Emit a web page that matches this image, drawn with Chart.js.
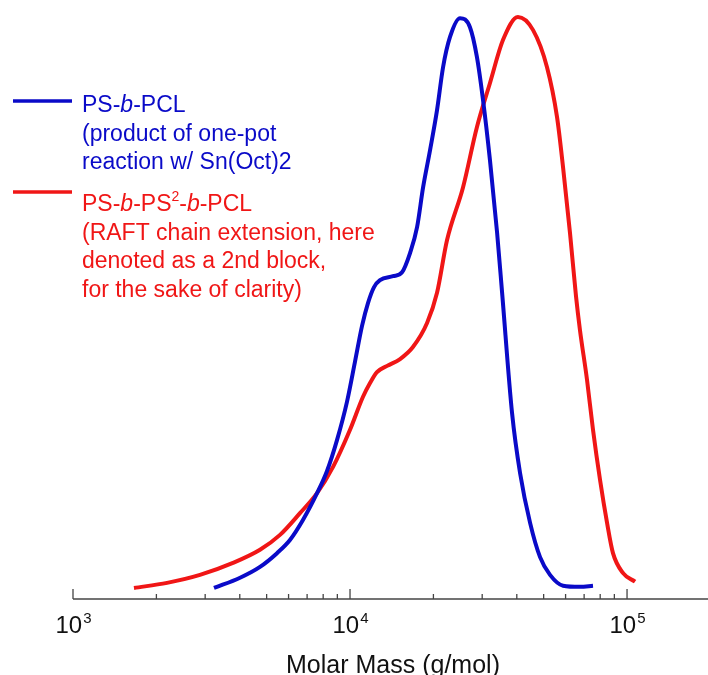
<!DOCTYPE html>
<html>
<head>
<meta charset="utf-8">
<script src="https://cdn.jsdelivr.net/npm/chart.js@4.4.1/dist/chart.umd.min.js"></script>
<style>
  body { margin: 0; background: #fff; }
  #wrap { width: 708px; height: 675px; position: relative; }
</style>
</head>
<body>
<div id="wrap"><canvas id="gpc"></canvas></div>
<script>
// GPC traces (molar mass in g/mol, normalised signal)
var blueMass = [3228,4009,4732,5451,6070,6761,7603,8260,8974,9750,10420,11050,11610,12210,12830,14290,15410,16480,17460,18360,19450,20610,21670,22960,24950,27100,28710,30200,31990,33960,35400,38460,41110,44670,48530,52720,58750,67610,75360];
var blueSignal = [0,0.018,0.037,0.061,0.084,0.119,0.166,0.205,0.259,0.326,0.396,0.459,0.499,0.527,0.539,0.546,0.553,0.587,0.632,0.702,0.767,0.837,0.912,0.965,0.998,0.982,0.93,0.855,0.75,0.622,0.517,0.306,0.201,0.114,0.054,0.023,0.004,0.002,0.004];

var redMass = [1660,2185,2873,3780,4732,5588,6597,7603,8685,10000,11140,11810,12510,13610,15160,16870,18970,20610,22390,25590,28710,31990,35680,40380,45800,51420,55870,58750,62230,65460,67610,71730,75360,79910,84700,88970,96770,106900];
var redSignal = [0,0.009,0.023,0.044,0.067,0.093,0.131,0.166,0.212,0.277,0.335,0.359,0.378,0.389,0.401,0.422,0.464,0.517,0.609,0.702,0.807,0.884,0.96,1.0,0.977,0.912,0.825,0.737,0.622,0.51,0.452,0.364,0.277,0.189,0.114,0.061,0.026,0.011];

var majorTicks = [1000, 10000, 100000];
var majorExp = ['3', '4', '5'];
var xTitle = 'Molar Mass (g/mol)';

// legend lines: [text, style] with style n = normal, i = italic, s = superscript
var blueLegend = [
  [['PS-','n'],['b','i'],['-PCL','n']],
  [['(product of one-pot','n']],
  [['reaction w/ Sn(Oct)2','n']]
];
var redLegend = [
  [['PS-','n'],['b','i'],['-PS','n'],['2','s'],['-','n'],['b','i'],['-PCL','n']],
  [['(RAFT chain extension, here','n']],
  [['denoted as a 2nd block,','n']],
  [['for the sake of clarity)','n']]
];

var BLUE = 'rgb(10,10,200)';
var RED = 'rgb(240,22,22)';
var FONT = '"Liberation Sans", Arial, Helvetica, sans-serif';

function pts(xs, ys) {
  return xs.map(function (m, i) { return { x: m, y: ys[i] }; });
}

function drawRich(ctx, segs, x, y, size) {
  segs.forEach(function (s) {
    var t = s[0], st = s[1];
    if (st === 's') {
      ctx.font = Math.round(size * 0.62) + 'px ' + FONT;
      ctx.fillText(t, x, y - size * 0.42);
    } else {
      ctx.font = (st === 'i' ? 'italic ' : '') + size + 'px ' + FONT;
      ctx.fillText(t, x, y);
    }
    x += ctx.measureText(t).width;
  });
}

var axisPlugin = {
  id: 'gpcAxis',
  afterDraw: function (chart) {
    var ctx = chart.ctx, xs = chart.scales.x, area = chart.chartArea;
    var y0 = area.bottom;
    ctx.save();
    ctx.strokeStyle = '#444';
    ctx.lineWidth = 1.5;
    ctx.beginPath();
    ctx.moveTo(area.left, y0);
    ctx.lineTo(area.right, y0);
    ctx.stroke();
    // major and minor ticks, pointing up
    ctx.lineWidth = 1.3;
    for (var d = 1000; d <= 100000; d *= 10) {
      for (var k = 1; k <= 9; k++) {
        var v = d * k;
        if (v > xs.max) break;
        var px = xs.getPixelForValue(v);
        ctx.beginPath();
        ctx.moveTo(px, y0);
        ctx.lineTo(px, y0 - (k === 1 ? 10 : 5));
        ctx.stroke();
      }
    }
    // tick labels 10^n
    ctx.fillStyle = '#111';
    ctx.textBaseline = 'alphabetic';
    majorTicks.forEach(function (v, i) {
      var px = xs.getPixelForValue(v);
      ctx.font = '24px ' + FONT;
      var w1 = ctx.measureText('10').width;
      ctx.font = '15px ' + FONT;
      var w2 = ctx.measureText(majorExp[i]).width;
      var left = px - (w1 + w2) / 2;
      ctx.font = '24px ' + FONT;
      ctx.fillText('10', left, 633);
      ctx.font = '15px ' + FONT;
      ctx.fillText(majorExp[i], left + w1 + 1, 623);
    });
    // axis title
    ctx.font = '25px ' + FONT;
    ctx.textAlign = 'center';
    ctx.fillText(xTitle, 393, 673);
    ctx.textAlign = 'left';

    // legend
    var sets = [[blueLegend, BLUE, 101, 112], [redLegend, RED, 192, 211]];
    sets.forEach(function (s) {
      ctx.strokeStyle = s[1];
      ctx.lineWidth = 3.5;
      ctx.beginPath();
      ctx.moveTo(13, s[2]);
      ctx.lineTo(72, s[2]);
      ctx.stroke();
      ctx.fillStyle = s[1];
      s[0].forEach(function (line, j) {
        drawRich(ctx, line, 82, s[3] + j * 28.5, 23);
      });
    });
    ctx.restore();
  }
};

new Chart(document.getElementById('gpc'), {
  type: 'line',
  data: {
    datasets: [
      {
        label: 'PS-b-PCL',
        data: pts(blueMass, blueSignal),
        borderColor: BLUE,
        borderWidth: 4,
        pointRadius: 0,
        cubicInterpolationMode: 'monotone',
        fill: false,
        clip: false
      },
      {
        label: 'PS-b-PS2-b-PCL',
        data: pts(redMass, redSignal),
        borderColor: RED,
        borderWidth: 4,
        pointRadius: 0,
        cubicInterpolationMode: 'monotone',
        fill: false,
        clip: false
      }
    ]
  },
  options: {
    responsive: true,
    maintainAspectRatio: false,
    animation: false,
    layout: { padding: { left: 73, right: 0, top: 17, bottom: 76 } },
    plugins: { legend: { display: false }, tooltip: { enabled: false } },
    scales: {
      x: {
        type: 'logarithmic',
        min: 1000,
        max: 196000,
        display: false
      },
      y: {
        min: -0.0193,
        max: 1.0,
        display: false
      }
    }
  },
  plugins: [axisPlugin]
});
</script>
</body>
</html>
